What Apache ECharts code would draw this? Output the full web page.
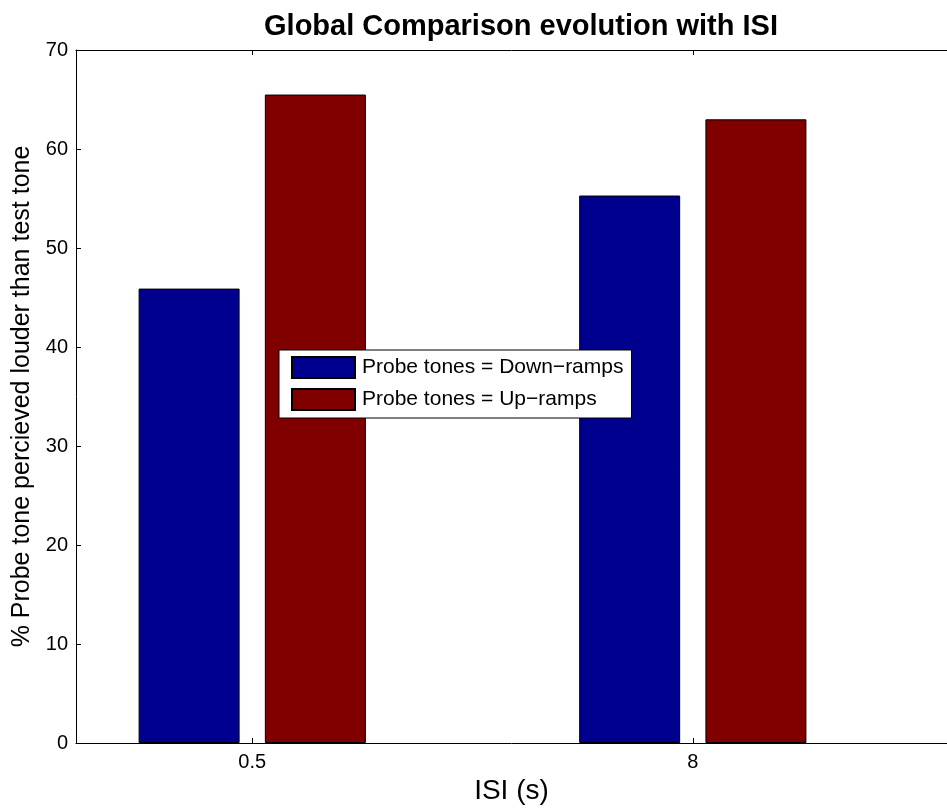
<!DOCTYPE html>
<html>
<head>
<meta charset="utf-8">
<script src="https://cdn.jsdelivr.net/npm/echarts@6/dist/echarts.min.js"></script>
<style>
  html, body { margin: 0; padding: 0; background: #fff; }
  #chart { width: 947px; height: 810px; }
</style>
</head>
<body>
<div id="chart"></div>
<script>
// ISI groups (bar positions 1 and 2 on the x axis) and their labels
const groupPositions = [1, 2];
const isiLabels = ['0.5', '8'];

// % of trials where the probe tone was perceived louder than the test tone
const downRamps = [45.9, 55.3];
const upRamps = [65.5, 63.0];

const seriesNames = ['Probe tones = Down\u2212ramps', 'Probe tones = Up\u2212ramps'];
const yTicks = [0, 10, 20, 30, 40, 50, 60, 70];

const FONT = '"Liberation Sans", Arial, Helvetica, sans-serif';

const chart = echarts.init(document.getElementById('chart'), null, { renderer: 'canvas' });

const labelFor = v => {
  const i = groupPositions.indexOf(Math.round(v * 1000) / 1000);
  return i >= 0 ? isiLabels[i] : '';
};

const baseX = {
  type: 'value',
  min: 0.6,
  max: 2.577,
  splitLine: { show: false },
  axisLine: { show: true, onZero: false, lineStyle: { color: '#000', width: 1 } },
  axisTick: { show: true, inside: true, length: 5, customValues: groupPositions, lineStyle: { color: '#000' } }
};

chart.setOption({
  animation: false,
  backgroundColor: '#fff',
  title: {
    text: 'Global Comparison evolution with ISI',
    left: 516,
    textAlign: 'center',
    top: 7,
    textStyle: { fontFamily: FONT, fontSize: 29, fontWeight: 'bold', color: '#000' }
  },
  legend: {
    left: 279,
    top: 350,
    orient: 'vertical',
    itemWidth: 63,
    itemHeight: 21,
    itemGap: 9,
    padding: [6, 8, 7, 12],
    backgroundColor: '#fff',
    borderColor: '#000',
    borderWidth: 1,
    borderRadius: 0,
    icon: 'rect',
    data: seriesNames,
    textStyle: { fontFamily: FONT, fontSize: 21, color: '#000', padding: [0, 0, 0, 2] }
  },
  grid: { left: 76, right: 0, top: 50, bottom: 61 },
  xAxis: [
    Object.assign({}, baseX, {
      position: 'bottom',
      name: 'ISI (s)',
      nameLocation: 'middle',
      nameGap: 34,
      nameTextStyle: { fontFamily: FONT, fontSize: 28, color: '#000' },
      axisLabel: {
        show: true,
        customValues: groupPositions,
        formatter: labelFor,
        margin: 9,
        fontFamily: FONT,
        fontSize: 20,
        color: '#000'
      }
    }),
    Object.assign({}, baseX, {
      position: 'top',
      axisLabel: { show: false }
    })
  ],
  yAxis: {
    type: 'value',
    min: 0,
    max: 70,
    interval: 10,
    name: '% Probe tone percieved louder than test tone',
    nameLocation: 'middle',
    nameGap: 35,
    nameTextStyle: { fontFamily: FONT, fontSize: 25, color: '#000' },
    splitLine: { show: false },
    axisLine: { show: true, lineStyle: { color: '#000', width: 1 } },
    axisTick: { show: true, inside: true, length: 5, lineStyle: { color: '#000' } },
    axisLabel: {
      margin: 8,
      fontFamily: FONT,
      fontSize: 20,
      color: '#000',
      formatter: v => (yTicks.indexOf(v) >= 0 ? String(v) : '')
    }
  },
  series: [
    {
      name: seriesNames[0],
      type: 'bar',
      xAxisIndex: 0,
      barWidth: 101,
      barGap: '25%',
      itemStyle: { color: '#00008F', borderColor: '#000', borderWidth: 1 },
      data: groupPositions.map((x, i) => [x, downRamps[i]])
    },
    {
      name: seriesNames[1],
      type: 'bar',
      xAxisIndex: 0,
      barWidth: 101,
      barGap: '25%',
      itemStyle: { color: '#800000', borderColor: '#000', borderWidth: 1 },
      data: groupPositions.map((x, i) => [x, upRamps[i]])
    }
  ]
});
</script>
</body>
</html>
